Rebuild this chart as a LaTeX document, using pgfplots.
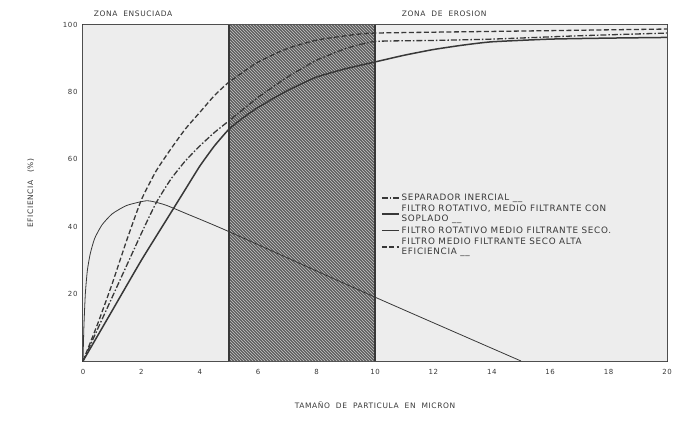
\documentclass[border=0pt]{standalone}
\usepackage{pgfplots}
\pgfplotsset{compat=1.18}
\usepackage{fontspec}
\setmainfont{DejaVu Sans}[LetterSpace=8]
\usetikzlibrary{patterns}
\definecolor{ink}{HTML}{383838}
\definecolor{bgl}{HTML}{EDEDED}
\definecolor{hatch}{HTML}{5E5E5E}
\begin{document}
\begin{tikzpicture}
\useasboundingbox (-83pt,-68pt) rectangle (600pt,361pt);
\begin{axis}[
  at={(0,0)}, anchor=south west,
  scale only axis, width=584pt, height=336pt,
  xmin=0, xmax=20, ymin=0, ymax=100,
  xtick={0,2,...,20}, ytick={20,40,60,80,100},
  tick style={draw=none},
  axis line style={ink, line width=1.3pt},
  ticklabel style={font=\fontsize{7}{8}\selectfont, text=ink},
  xticklabel style={yshift=-5pt},
  yticklabel style={xshift=-2pt},
  /pgf/number format/assume math mode=true,
  xlabel={TAMAÑO\ \ DE\ \ PARTICULA\ \ EN\ \ MICRON},
  ylabel={EFICIENCIA\quad (\%)},
  label style={font=\fontsize{7.5}{9}\selectfont, text=ink},
  xlabel style={yshift=-20pt},
  ylabel style={yshift=22pt},
  legend style={at={(axis cs:10.1,51)}, anchor=north west, draw=none, fill=none,
    font=\fontsize{8.8}{9.6}\selectfont, text=ink, cells={align=left}, row sep=-0.5pt},
  legend cell align=left,
  clip=false,
]
\addplot[draw=none, fill=bgl, forget plot] coordinates {(0,0)(20,0)(20,100)(0,100)} \closedcycle;
\addplot[draw=none, fill=hatch, forget plot] coordinates {(5,0)(10,0)(10,100)(5,100)} \closedcycle;
\addplot[draw=none, pattern=north west lines, pattern color=gray!45, forget plot] coordinates {(5,0)(10,0)(10,100)(5,100)} \closedcycle;
\addplot[ink, line width=1.3pt, forget plot] coordinates {(5,0)(5,100)};
\addplot[ink, line width=1.3pt, forget plot] coordinates {(10,0)(10,100)};

% separador inercial (dash-dot)
\addplot[ink, line width=1.3pt, dash pattern=on 6pt off 2pt on 1.5pt off 2pt, smooth, tension=0.3] coordinates {
(0,0)(1,19)(2,38)(2.5,47)(3,54)(3.5,59.5)(4,64)(4.5,68)(5,71.5)(6,78.5)(7,84.5)(8,89.5)(9,93)(10,95.1)(12,95.4)(14,95.8)(17,96.8)(20,97.6)};
\addlegendentry{SEPARADOR INERCIAL \_\_}
% thick solid
\addplot[ink, line width=1.5pt, smooth, tension=0.3] coordinates {
(0,0)(1,15)(2,30)(3,44)(3.5,51)(4,58)(4.5,64)(5,69)(5.5,72.5)(6,75.5)(7,80.5)(8,84.5)(9,87)(10,89)(11,91)(12,92.7)(13,94)(14,95)(16,95.8)(18,96.1)(20,96.3)};
\addlegendentry{FILTRO ROTATIVO, MEDIO FILTRANTE CON\\SOPLADO \_\_}
% thin solid
\addplot[ink, line width=0.8pt, smooth, tension=0.35] coordinates {
(0,0)(0.03,10)(0.08,20)(0.15,27)(0.25,32)(0.4,36.5)(0.65,40.5)(1,43.8)(1.5,46.3)(2.2,47.7)(2.8,46.5)(3.5,44)(5,38.5)(10,19)(15,0)};
\addlegendentry{FILTRO ROTATIVO MEDIO FILTRANTE SECO.}
% dashed
\addplot[ink, line width=1.3pt, dash pattern=on 5pt off 2.5pt, smooth, tension=0.3] coordinates {
(0,0)(0.5,11)(1,23)(1.5,36)(2,48)(2.5,56.5)(3,63)(3.5,69)(4,74)(4.5,79)(5,83)(6,89)(7,93)(8,95.5)(9,96.8)(10,97.6)(15,98.2)(20,98.8)};
\addlegendentry{FILTRO MEDIO FILTRANTE SECO ALTA\\EFICIENCIA \_\_}

\node[font=\fontsize{7.5}{9}\selectfont, text=ink, anchor=south west] at (axis cs:0.25,101.5) {ZONA\ \ ENSUCIADA};
\node[font=\fontsize{7.5}{9}\selectfont, text=ink, anchor=south west] at (axis cs:10.8,101.5) {ZONA\ \ DE\ \ EROSION};
\end{axis}
\end{tikzpicture}
\end{document}
